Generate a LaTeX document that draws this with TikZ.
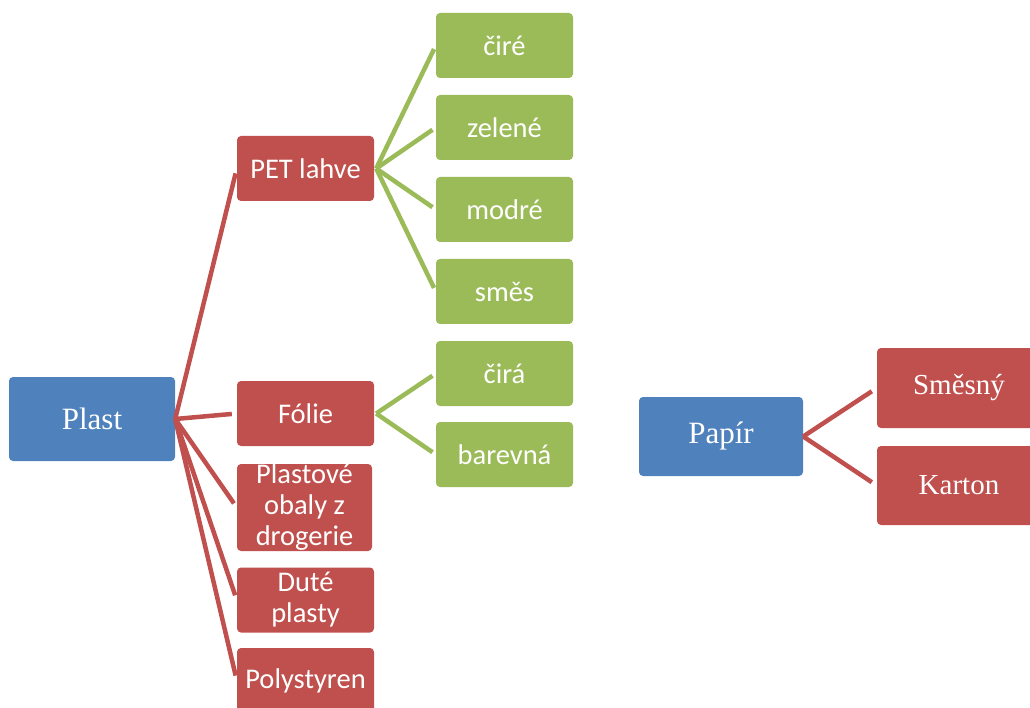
\documentclass[tikz,border=0pt]{standalone}
\usepackage{fontspec}
\setmainfont{Liberation Serif}
\newfontfamily\boxsans{Carlito}
\definecolor{cblue}{HTML}{4F81BD}
\definecolor{cred}{HTML}{C0504D}
\definecolor{cgreen}{HTML}{9BBB59}
\begin{document}
\begin{tikzpicture}[x=1pt,y=-1pt,
  box/.style={rounded corners=4pt, inner sep=0pt, text=white, align=center, anchor=center},
  bluebox/.style={box, fill=cblue, font=\fontsize{31}{34}\selectfont},
  redserif/.style={box, fill=cred, font=\fontsize{29}{32}\selectfont},
  redbox/.style={box, fill=cred, font=\boxsans\fontsize{28.5}{31}\selectfont},
  greenbox/.style={box, fill=cgreen, font=\boxsans\fontsize{28.5}{31}\selectfont,
    minimum width=137pt, minimum height=65pt},
  redline/.style={draw=cred, line width=4.5pt, shorten >=5pt},
  greenline/.style={draw=cgreen, line width=4.5pt, shorten >=4pt}]
\useasboundingbox (0,0) rectangle (1030,708);
\clip (0,0) rectangle (1030,708);
% root nodes
\node[bluebox, minimum width=166pt, minimum height=84pt] (plast) at (92,419) {Plast};
\node[bluebox, minimum width=164pt, minimum height=79pt] (papir) at (721,436.5) {Papír};
% paper children
\node[redserif, minimum width=164pt, minimum height=80pt] (smesny) at (959,388) {Směsný};
\node[redserif, minimum width=164pt, minimum height=79pt] (karton) at (959,485.5) {Karton};
% plastic children
\node[redbox, minimum width=137pt, minimum height=65pt] (pet) at (305.5,168.5) {PET lahve};
\node[redbox, minimum width=137pt, minimum height=65pt] (folie) at (305.5,413.5) {Fólie};
\node[redbox, minimum width=135pt, minimum height=87pt] (obaly) at (304.5,507.5) {Plastové\\obaly z\\drogerie};
\node[redbox, minimum width=137pt, minimum height=65pt] (dute) at (305.5,600) {Duté\\plasty};
\node[redbox, minimum width=137pt, minimum height=65pt] (poly) at (305.5,680.5) {Polystyren};
% green leaves
\node[greenbox] (cire) at (504.5,45.5) {čiré};
\node[greenbox] (zelene) at (504.5,127.5) {zelené};
\node[greenbox] (modre) at (504.5,209.5) {modré};
\node[greenbox] (smes) at (504.5,291.5) {směs};
\node[greenbox] (cira) at (504.5,373.5) {čirá};
\node[greenbox] (barevna) at (504.5,454.5) {barevná};
% connectors
\foreach \c in {pet,folie,obaly,dute,poly}
  \draw[redline] (plast.east) -- (\c.west);
\foreach \c in {smesny,karton}
  \draw[redline, shorten >=6pt] (papir.east) -- (\c.west);
\foreach \c in {cire,zelene,modre,smes}
  \draw[greenline] ([xshift=2pt]pet.east) -- (\c.west);
\foreach \c in {cira,barevna}
  \draw[greenline] ([xshift=2pt]folie.east) -- (\c.west);
\end{tikzpicture}
\end{document}
